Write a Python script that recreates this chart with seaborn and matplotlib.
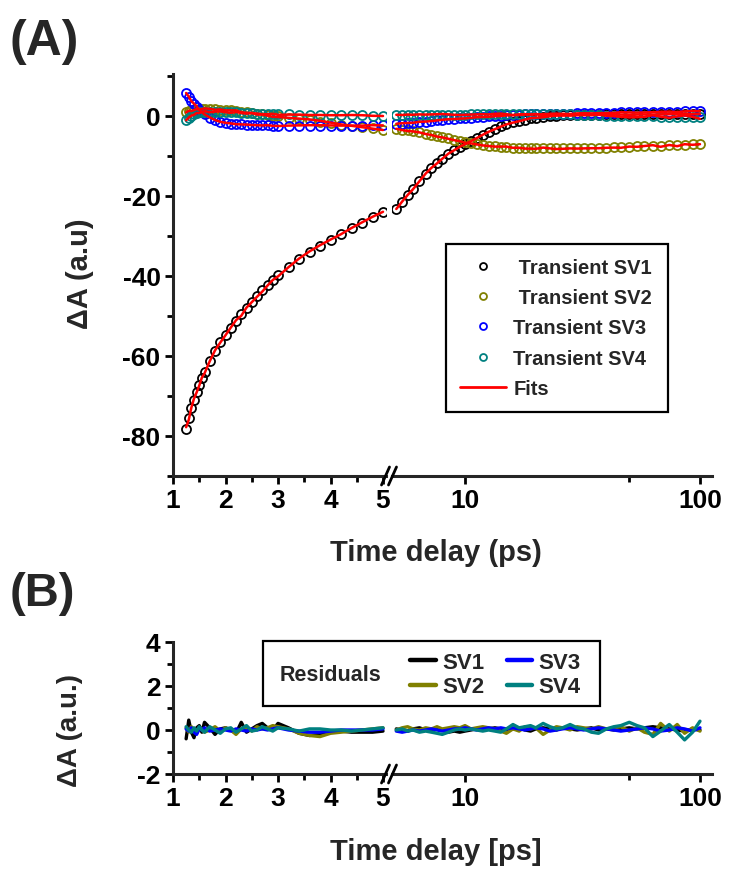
import numpy as np
import pandas as pd
import matplotlib
matplotlib.use("Agg")
import matplotlib.pyplot as plt
import seaborn as sns
from matplotlib.lines import Line2D
from matplotlib.patches import Rectangle
from matplotlib.ticker import FixedLocator, NullFormatter, FixedFormatter

# ---------------- data ----------------
# time delays (ps) for the linear (1-5 ps) and logarithmic (5-100 ps) segments
t_left = [1.25, 1.30, 1.35, 1.40, 1.45, 1.50, 1.55, 1.60, 1.70, 1.80, 1.90, 2.00, 2.10, 2.20,
          2.30, 2.40, 2.50, 2.60, 2.70, 2.80, 2.90, 3.00, 3.20, 3.40, 3.60, 3.80, 4.00, 4.20,
          4.40, 4.60, 4.80, 5.00]
t_right = [5.1, 5.4, 5.7, 6.0, 6.4, 6.8, 7.2, 7.6, 8.0, 8.5,
           9.0, 9.5, 10.0, 10.6, 11.2, 11.9, 12.6, 13.4, 14.2, 15.0,
           16.0, 17.0, 18.0, 19.0, 20.0, 21.5, 23.0, 24.5, 26.0, 28.0,
           30.0, 32.0, 34.5, 37.0, 40.0, 43.0, 46.0, 50.0, 54.0, 58.0,
           63.0, 68.0, 74.0, 80.0, 86.0, 93.0, 100.0]

# transient singular-vector kinetics (dA, a.u.)
sv1_left = [-78.2, -75.5, -73.0, -71.0, -69.0, -67.2, -65.5, -64.0, -61.2, -58.8, -56.6, -54.7,
            -52.9, -51.2, -49.6, -48.0, -46.5, -45.0, -43.6, -42.3, -41.0, -39.8, -37.7, -35.8,
            -34.1, -32.5, -31.0, -29.6, -28.1, -26.7, -25.3, -24.0]
sv2_left = [1.0, 1.2, 1.4, 1.5, 1.6, 1.7, 1.8, 1.8, 1.8, 1.7, 1.6, 1.5, 1.4, 1.2, 1.0, 0.9,
            0.7, 0.5, 0.4, 0.2, 0.0, -0.1, -0.4, -0.8, -1.1, -1.5, -1.8, -2.2, -2.5, -2.8,
            -3.1, -3.4]
sv3_left = [5.8, 4.8, 3.8, 3.0, 2.2, 1.6, 1.0, 0.5, -0.4, -1.0, -1.4, -1.7, -1.9, -2.0, -2.1,
            -2.2, -2.2, -2.3, -2.3, -2.3, -2.4, -2.4, -2.4, -2.4, -2.4, -2.4, -2.4, -2.4, -2.4,
            -2.4, -2.3, -2.3]
sv4_left = [-0.9, -0.4, 0.0, 0.4, 0.7, 0.9, 1.0, 1.1, 1.1, 1.1, 1.0, 1.0, 0.9, 0.9, 0.8, 0.8,
            0.7, 0.6, 0.6, 0.5, 0.5, 0.4, 0.4, 0.3, 0.3, 0.3, 0.2, 0.2, 0.2, 0.2, 0.1, 0.1]

sv1_right = [-23.2, -21.4, -19.8, -18.3, -16.2, -14.4, -13.0, -11.8, -10.7, -9.5,
             -8.6, -7.8, -7.1, -6.3, -5.5, -4.7, -3.9, -3.2, -2.6, -2.1,
             -1.6, -1.2, -0.9, -0.6, -0.4, -0.2, 0.0, 0.1, 0.2, 0.2,
             0.3, 0.3, 0.3, 0.3, 0.4, 0.4, 0.4, 0.4, 0.4, 0.5,
             0.5, 0.5, 0.5, 0.5, 0.5, 0.5, 0.5]
sv2_right = [-3.2, -3.4, -3.6, -3.8, -4.1, -4.4, -4.7, -5.0, -5.3, -5.6,
             -5.9, -6.2, -6.5, -6.8, -7.0, -7.2, -7.4, -7.6, -7.7, -7.8,
             -7.9, -8.0, -8.0, -8.1, -8.1, -8.1, -8.1, -8.1, -8.1, -8.1,
             -8.0, -8.0, -8.0, -7.9, -7.9, -7.8, -7.8, -7.7, -7.6, -7.6,
             -7.5, -7.4, -7.3, -7.3, -7.2, -7.1, -7.1]
sv3_right = [-2.0, -1.9, -1.8, -1.7, -1.5, -1.4, -1.2, -1.1, -1.0, -0.8,
             -0.7, -0.6, -0.5, -0.4, -0.3, -0.2, -0.1, 0.0, 0.1, 0.2,
             0.3, 0.3, 0.4, 0.4, 0.5, 0.5, 0.5, 0.6, 0.6, 0.6,
             0.7, 0.7, 0.7, 0.8, 0.8, 0.8, 0.9, 0.9, 0.9, 1.0,
             1.0, 1.0, 1.1, 1.1, 1.2, 1.2, 1.3]
sv4_right = [0.3, 0.3, 0.3, 0.3, 0.3, 0.3, 0.3, 0.3, 0.3, 0.3,
             0.3, 0.3, 0.3, 0.4, 0.4, 0.4, 0.4, 0.5, 0.5, 0.5,
             0.5, 0.5, 0.6, 0.6, 0.6, 0.5, 0.5, 0.5, 0.4, 0.4,
             0.3, 0.3, 0.2, 0.2, 0.1, 0.1, 0.0, 0.0, -0.1, -0.1,
             -0.1, -0.2, -0.2, -0.2, -0.3, -0.3, -0.3]

# fit residuals (data - fit)
res1_left = [-0.40, 0.45, -0.10, -0.35, 0.10, 0.20, -0.10, 0.35, 0.10, -0.20, 0.05, 0.10, 0.00,
             -0.15, 0.35, -0.10, 0.05, 0.20, 0.30, 0.10, 0.00, 0.30, 0.10, -0.15, -0.25, -0.20,
             -0.10, -0.05, -0.10, -0.10, -0.10, -0.05]
res2_left = [0.10, -0.10, 0.15, 0.00, -0.15, 0.10, 0.05, -0.10, 0.00, 0.15, -0.05, 0.10, 0.00,
             -0.20, 0.05, 0.10, -0.05, 0.15, 0.05, 0.10, 0.20, 0.15, 0.05, -0.15, -0.25, -0.30,
             -0.15, -0.10, -0.05, 0.00, 0.05, 0.10]
res3_left = [0.05, -0.05, 0.10, -0.10, -0.20, 0.05, 0.00, 0.10, -0.05, 0.00, 0.05, 0.00, -0.05,
             0.05, 0.00, -0.05, 0.05, 0.00, 0.05, 0.00, 0.05, 0.10, 0.00, -0.05, -0.10, -0.10,
             -0.05, 0.00, 0.00, 0.00, 0.00, 0.05]
res4_left = [0.15, 0.00, -0.10, 0.10, -0.05, 0.15, 0.00, -0.10, 0.15, 0.00, -0.15, 0.05, 0.10,
             -0.10, 0.05, 0.20, -0.05, 0.00, 0.15, 0.05, -0.05, 0.10, 0.05, -0.05, 0.05, 0.05,
             0.00, 0.00, -0.05, 0.00, 0.05, 0.10]

res1_right = [0.05, 0.00, -0.05, 0.05, 0.10, 0.00, -0.05, 0.05, 0.00, -0.10,
              -0.05, -0.10, -0.05, 0.00, 0.05, 0.00, 0.05, 0.10, 0.05, 0.00,
              0.05, 0.10, 0.00, -0.05, 0.05, 0.10, 0.05, 0.00, 0.10, 0.05,
              0.00, 0.05, 0.10, 0.00, 0.05, 0.00, 0.05, 0.10, 0.05, 0.10,
              0.15, 0.10, 0.05, 0.00, -0.05, 0.05, 0.00]
res2_right = [0.00, 0.10, 0.15, 0.05, 0.00, 0.10, 0.05, 0.15, 0.05, 0.10,
              0.15, 0.10, 0.20, 0.05, 0.10, 0.15, 0.10, 0.05, -0.05, -0.15,
              0.05, -0.05, 0.15, 0.05, 0.10, -0.20, 0.00, 0.15, 0.10, 0.00,
              0.15, 0.10, 0.05, 0.15, 0.05, 0.10, 0.15, -0.05, 0.10, -0.10,
              -0.20, 0.30, -0.05, 0.25, -0.15, 0.10, -0.05]
res3_right = [-0.05, -0.10, -0.05, 0.00, -0.05, 0.00, 0.05, 0.00, -0.05, 0.00,
              0.05, 0.05, 0.10, 0.05, 0.00, 0.05, 0.10, 0.05, 0.10, 0.05,
              0.10, 0.05, 0.00, 0.05, 0.10, 0.05, -0.05, 0.00, 0.05, 0.10,
              0.05, 0.00, 0.05, 0.10, 0.05, 0.00, -0.05, 0.00, 0.05, 0.10,
              0.05, -0.05, 0.00, 0.10, 0.05, -0.05, 0.10]
res4_right = [0.00, 0.05, -0.05, 0.00, -0.10, -0.05, -0.10, -0.15, -0.20, -0.10,
              0.00, 0.05, 0.00, 0.05, 0.00, -0.05, 0.00, -0.05, -0.10, 0.05,
              0.25, 0.10, 0.15, 0.20, 0.10, 0.30, 0.15, 0.05, 0.10, 0.25,
              0.10, 0.05, -0.10, -0.15, 0.05, 0.15, 0.20, 0.35, 0.20, 0.10,
              -0.30, -0.05, 0.25, -0.10, -0.45, -0.10, 0.40]

series_names = ["SV1", "SV2", "SV3", "SV4"]
series_colors = ["#000000", "#808000", "#0000FF", "#008080"]

# ---------------- tidy table ----------------
rows = []
blocks = {
    "left": (t_left, [sv1_left, sv2_left, sv3_left, sv4_left],
             [res1_left, res2_left, res3_left, res4_left]),
    "right": (t_right, [sv1_right, sv2_right, sv3_right, sv4_right],
              [res1_right, res2_right, res3_right, res4_right]),
}
for seg, (tt, ys, rs) in blocks.items():
    for name, y, r in zip(series_names, ys, rs):
        for ti, yi, ri in zip(tt, y, r):
            rows.append(dict(segment=seg, series=name, time=ti, dA=yi, resid=ri, fit=yi - ri))
df = pd.DataFrame(rows)

# ---------------- style ----------------
sns.set_theme(style="ticks")
plt.rcParams["font.family"] = ["Liberation Sans", "DejaVu Sans"]
plt.rcParams["font.weight"] = "bold"
plt.rcParams["axes.labelweight"] = "bold"

W, H = 734, 878
fig = plt.figure(figsize=(W / 100, H / 100), dpi=100)
fig.patch.set_facecolor("white")


def add_ax(x0, y_top, x1, y_bot):
    return fig.add_axes([x0 / W, 1 - y_bot / H, (x1 - x0) / W, (y_bot - y_top) / H])


XL, XB0, XB1, XR = 173, 386, 392, 712
axA_l = add_ax(XL, 75, XB0, 477)
axA_r = add_ax(XB1, 75, XR, 477)
axB_l = add_ax(XL, 643, XB0, 775)
axB_r = add_ax(XB1, 643, XR, 775)

TICK_FS = 19
SPINE_W = 2.2


def style_pair(ax_l, ax_r, ylim, ymajor, yminor):
    for ax in (ax_l, ax_r):
        ax.set_facecolor("none")
        ax.set_ylim(*ylim)
        ax.spines["top"].set_visible(False)
        ax.spines["right"].set_visible(False)
        ax.spines["bottom"].set_linewidth(SPINE_W)
        ax.spines["left"].set_linewidth(SPINE_W)
        ax.tick_params(which="major", direction="out", length=6, width=2,
                       labelsize=TICK_FS, color="black", labelcolor="black", pad=3)
        ax.tick_params(which="minor", direction="out", length=4, width=2, color="black")
        ax.set_xlabel("")
        ax.set_ylabel("")
    ax_l.set_xlim(1, 5.057)
    ax_l.xaxis.set_major_locator(FixedLocator([1, 2, 3, 4, 5]))
    ax_l.xaxis.set_minor_locator(FixedLocator([1.5, 2.5, 3.5, 4.5]))
    ax_l.set_xticklabels(["1", "2", "3", "4", "5"], fontweight="bold")
    ax_l.yaxis.set_major_locator(FixedLocator(ymajor))
    ax_l.yaxis.set_minor_locator(FixedLocator(yminor))
    ax_l.set_yticklabels([f"{v:g}" for v in ymajor], fontweight="bold")
    ax_r.set_xscale("log")
    ax_r.set_xlim(4.89, 112.5)
    ax_r.xaxis.set_major_locator(FixedLocator([10, 100]))
    ax_r.xaxis.set_major_formatter(FixedFormatter(["10", "100"]))
    ax_r.xaxis.set_minor_locator(FixedLocator([50]))
    ax_r.xaxis.set_minor_formatter(NullFormatter())
    ax_r.spines["left"].set_visible(False)
    ax_r.tick_params(axis="y", which="both", left=False, labelleft=False)
    for lab in ax_r.get_xticklabels():
        lab.set_fontweight("bold")


# ---------------- panel A: kinetics + fits ----------------
for ax, seg in ((axA_l, "left"), (axA_r, "right")):
    sub = df[df.segment == seg]
    for name, col in zip(series_names, series_colors):
        s = sub[sub.series == name]
        sns.lineplot(x=s.time.values, y=s.dA.values, ax=ax, color=col, linestyle="none",
                     marker="o", markersize=6.5, markerfacecolor="none", markeredgecolor=col,
                     markeredgewidth=1.3, estimator=None, sort=False, legend=False)
    for name in series_names:
        s = sub[sub.series == name]
        sns.lineplot(x=s.time.values, y=s.fit.values, ax=ax, color="#FF0000", linewidth=1.8,
                     estimator=None, sort=False, legend=False)

style_pair(axA_l, axA_r, (-90, 10.5), [-80, -60, -40, -20, 0], [-90, -70, -50, -30, -10, 10])

# ---------------- panel B: residuals ----------------
for ax, seg in ((axB_l, "left"), (axB_r, "right")):
    sub = df[df.segment == seg]
    for name, col in zip(series_names, series_colors):
        s = sub[sub.series == name]
        sns.lineplot(x=s.time.values, y=s.resid.values, ax=ax, color=col, linewidth=2.4,
                     estimator=None, sort=False, legend=False)

style_pair(axB_l, axB_r, (-2, 4), [-2, 0, 2, 4], [-1, 1, 3])


# ---------------- axis breaks ----------------
def axis_break(y_px):
    xc = (XB0 + XB1) / 2
    for dx in (-3.5, 3.5):
        x0, x1 = xc + dx - 4, xc + dx + 4
        y0, y1 = y_px + 9, y_px - 9
        fig.add_artist(Line2D([x0 / W, x1 / W], [1 - y0 / H, 1 - y1 / H],
                              transform=fig.transFigure, color="black", lw=2.0))


axis_break(477)
axis_break(775)

# ---------------- text ----------------
fig.text(10 / W, 1 - 42 / H, "(A)", fontsize=36, fontweight="bold", va="center", ha="left")
fig.text(10 / W, 1 - 594 / H, "(B)", fontsize=34, fontweight="bold", va="center", ha="left")
fig.text(80 / W, 1 - 274 / H, "\u0394A (a.u)", fontsize=21, fontweight="bold",
         rotation=90, va="center", ha="center")
fig.text(70 / W, 1 - 731 / H, "\u0394A (a.u.)", fontsize=20, fontweight="bold",
         rotation=90, va="center", ha="center")
fig.text(436 / W, 1 - 553 / H, "Time delay (ps)", fontsize=21, fontweight="bold",
         va="center", ha="center")
fig.text(436 / W, 1 - 852 / H, "Time delay [ps]", fontsize=21, fontweight="bold",
         va="center", ha="center")

# ---------------- legends ----------------
handles_A = [Line2D([], [], linestyle="none", marker="o", markersize=5, markerfacecolor="none",
                    markeredgecolor=c, markeredgewidth=1.3) for c in series_colors]
handles_A.append(Line2D([], [], color="#FF0000", lw=2))
labels_A = [" Transient SV1", " Transient SV2", "Transient SV3", "Transient SV4", "Fits"]
legA = axA_r.legend(handles_A, labels_A, loc="center", mode="expand",
                    bbox_to_anchor=(446 / W, 1 - 412 / H, 222 / W, 166 / H),
                    bbox_transform=fig.transFigure, prop=dict(size=14.5, weight="bold"),
                    frameon=True, fancybox=False, framealpha=1, edgecolor="black",
                    borderaxespad=0, borderpad=0.7, labelspacing=0.55,
                    handlelength=2.3, handletextpad=0.35)
legA.get_frame().set_linewidth(1.6)

fig.add_artist(Rectangle((263 / W, 1 - 707 / H), (600 - 263) / W, (707 - 642) / H,
                         transform=fig.transFigure, fill=False, edgecolor="black", lw=1.6))
fig.text(280 / W, 1 - 676 / H, "Residuals", fontsize=15.5, fontweight="bold",
         va="center", ha="left")
handles_B = [Line2D([], [], color=c, lw=3.2) for c in series_colors]
fig.legend(handles_B, series_names, loc="upper left", ncol=2,
           bbox_to_anchor=(410 / W, 1 - 653 / H), bbox_transform=fig.transFigure,
           prop=dict(size=16, weight="bold"), frameon=False, borderpad=0, borderaxespad=0,
           handlelength=1.15, handletextpad=0.3, columnspacing=1.0, labelspacing=0.15)

fig.savefig("out.png", dpi=100, facecolor="white")
